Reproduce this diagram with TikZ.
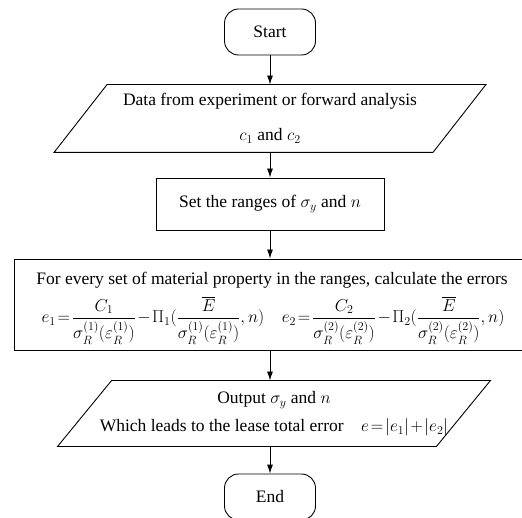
\documentclass[tikz,border=0pt]{standalone}
\usepackage{amsmath}
\usepackage{fontspec}
\setmainfont{Liberation Serif}
\usetikzlibrary{arrows.meta}
\tikzset{
  term/.style={draw, rounded corners=14pt, minimum width=91pt, minimum height=46pt, inner sep=0pt},
  proc/.style={draw, rectangle, inner sep=0pt},
  io/.style={rectangle, inner sep=0pt, minimum width=378pt, align=center},
  line/.style={draw, -{Latex[length=9pt,width=6pt]}}
}
\newcommand{\tightmath}{\thickmuskip=2mu\medmuskip=1.5mu}
% parallelogram round an io node: #1 = node, #2 = slant offset
\newcommand{\slanted}[2]{%
  \draw ([xshift=#2]#1.north west) -- ([xshift=#2]#1.north east)
     -- ([xshift=-#2]#1.south east) -- ([xshift=-#2]#1.south west) -- cycle;}
\begin{document}
\begin{tikzpicture}[x=1pt, y=-1pt, line width=0.9pt, font=\fontsize{17.5}{20}\selectfont]
    \useasboundingbox (0,0) rectangle (522,518);
    \node [term] (start) at (270,32) {Start};
    \node [io, minimum height=67pt] (data) at (270,118.5)
        {Data from experiment or forward analysis\\[15pt] $c_1$ and $c_2$};
    \slanted{data}{26.5pt}
    \node [proc, minimum width=228pt, minimum height=52pt] (set) at (270,204)
        {Set the ranges of $\sigma_y$ and $n$};
    \node [proc, minimum width=540pt, minimum height=91pt] (calc) at (284,304.5) {};
    \node (calctxt) at (272,280) {For every set of material property in the ranges, calculate the errors};
    \node (calceq) at (273,320) {\tightmath
         $e_1=\dfrac{C_1}{\sigma_R^{(1)}(\varepsilon_R^{(1)})}-\Pi_1(\dfrac{\overline{E}}{\sigma_R^{(1)}(\varepsilon_R^{(1)})},n)\quad
          e_2=\dfrac{C_2}{\sigma_R^{(2)}(\varepsilon_R^{(2)})}-\Pi_2(\dfrac{\overline{E}}{\sigma_R^{(2)}(\varepsilon_R^{(2)})},n)$};
    \node [io, minimum height=65pt] (out) at (274,413.5)
        {Output $\sigma_y$ and $n$\\[8pt] Which leads to the lease total error\quad {\tightmath$e=|e_1|+|e_2|$}};
    \slanted{out}{27pt}
    \node [term] (end) at (270,497) {End};
    % connectors
    \path [line] (start) -- (data);
    \path [line] (data) -- (set);
    \path [line] (set) -- (set |- calc.north);
    \path [line] (set |- calc.south) -- (set |- out.north);
    \path [line] (set |- out.south) -- (end);
\end{tikzpicture}
\end{document}
